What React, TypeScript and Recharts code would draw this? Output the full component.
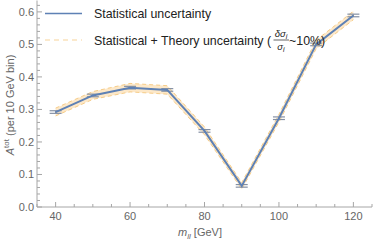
import { Area, ComposedChart, ErrorBar, Line, XAxis, YAxis } from 'recharts';

const masses = [40, 50, 60, 70, 80, 90, 100, 110, 120];
const asym = [0.292, 0.343, 0.367, 0.36, 0.234, 0.065, 0.273, 0.5, 0.589];
const statErr = [0.004, 0.004, 0.004, 0.004, 0.004, 0.004, 0.004, 0.004, 0.004];
const bandLow = [0.28, 0.331, 0.354, 0.347, 0.222, 0.055, 0.261, 0.487, 0.576];
const bandHigh = [0.304, 0.355, 0.38, 0.373, 0.246, 0.075, 0.285, 0.513, 0.602];

const xTicks = [35, 40, 45, 50, 55, 60, 65, 70, 75, 80, 85, 90, 95, 100, 105, 110, 115, 120, 125];
const yTicks = [0, 0.02, 0.04, 0.06, 0.08, 0.1, 0.12, 0.14, 0.16, 0.18, 0.2, 0.22, 0.24, 0.26, 0.28, 0.3,
    0.32, 0.34, 0.36, 0.38, 0.4, 0.42, 0.44, 0.46, 0.48, 0.5, 0.52, 0.54, 0.56, 0.58, 0.6, 0.62];

const data = masses.map((m, i) => ({ x: m, y: asym[i], e: statErr[i], band: [bandLow[i], bandHigh[i]] }));

const frame = '#a6a6a6';
const labelColor = '#666';
const font = '"Liberation Sans", Arial, sans-serif';

const isMajorX = (v: number) => v % 20 === 0;
const isMajorY = (v: number) => Math.round(v * 100) % 10 === 0;

function BottomTick({ x, y, payload }: any) {
    const v = payload.value;
    const len = isMajorX(v) ? 5 : 3;
    return (
        <g>
            <line x1={x} y1={y} x2={x} y2={y - len} stroke={frame} />
            {isMajorX(v) && (
                <text x={x} y={y + 13} textAnchor="middle" fontSize={11} fill={labelColor} fontFamily={font}>
                    {v}
                </text>
            )}
        </g>
    );
}

function TopTick({ x, y, payload }: any) {
    const len = isMajorX(payload.value) ? 5 : 3;
    return <line x1={x} y1={y} x2={x} y2={y + len} stroke={frame} />;
}

function LeftTick({ x, y, payload }: any) {
    const v = payload.value;
    const len = isMajorY(v) ? 5 : 3;
    return (
        <g>
            <line x1={x} y1={y} x2={x + len} y2={y} stroke={frame} />
            {isMajorY(v) && (
                <text x={x - 3} y={y + 4} textAnchor="end" fontSize={11} fill={labelColor} fontFamily={font}>
                    {v.toFixed(1)}
                </text>
            )}
        </g>
    );
}

function RightTick({ x, y, payload }: any) {
    const len = isMajorY(payload.value) ? 5 : 3;
    return <line x1={x} y1={y} x2={x - len} y2={y} stroke={frame} />;
}

export default function App() {
    return (
        <div style={{ position: 'absolute', left: 0, top: 0, width: 374, height: 244, background: '#fff' }}>
            <ComposedChart width={374} height={244} data={data} margin={{ top: 0.5, right: 2, left: 0, bottom: 0 }}>
                <XAxis dataKey="x" type="number" domain={[35, 125]} allowDataOverflow ticks={xTicks} interval={0}
                    height={37} stroke={frame} tickSize={0} tickMargin={0} tick={<BottomTick />} />
                <XAxis xAxisId="top" orientation="top" dataKey="x" type="number" domain={[35, 125]} allowDataOverflow
                    ticks={xTicks} interval={0} height={0} stroke={frame} tickSize={0} tickMargin={0} tick={<TopTick />} />
                <YAxis type="number" domain={[0, 0.635]} allowDataOverflow ticks={yTicks} interval={0} width={37}
                    stroke={frame} tickSize={0} tickMargin={0} tick={<LeftTick />} />
                <YAxis yAxisId="r" orientation="right" type="number" domain={[0, 0.635]} allowDataOverflow ticks={yTicks}
                    interval={0} width={0} stroke={frame} tickSize={0} tickMargin={0} tick={<RightTick />} />
                <Area dataKey="band" type="linear" fill="#fde8c8" fillOpacity={1} stroke="#f6cc88" strokeWidth={1}
                    strokeDasharray="4 3" isAnimationActive={false} />
                <Line dataKey="y" type="linear" stroke="#5e81b5" strokeWidth={2} dot={false} isAnimationActive={false}>
                    <ErrorBar dataKey="e" width={6} stroke="#8590a3" strokeWidth={1.2} direction="y" />
                </Line>
            </ComposedChart>
            <svg width={374} height={244} style={{ position: 'absolute', left: 0, top: 0, pointerEvents: 'none' }}
                fontFamily={font}>
                <line x1={45} y1={13.5} x2={82} y2={13.5} stroke="#5e81b5" strokeWidth={1.5} />
                <text x={94} y={18} fontSize={12.4} fill="#222">Statistical uncertainty</text>
                <line x1={45} y1={40} x2={82} y2={40} stroke="#f7d49a" strokeWidth={1.2} strokeDasharray="5 4" />
                <text x={94} y={45} fontSize={12.4} fill="#222">Statistical + Theory uncertainty (</text>
                <text x={281} y={37} fontSize={9.5} fill="#222" textAnchor="middle" fontStyle="italic">
                    δσ<tspan fontSize={7} dy={2}>i</tspan>
                </text>
                <line x1={273.5} y1={40} x2={289} y2={40} stroke="#222" strokeWidth={0.7} />
                <text x={281} y={50} fontSize={9.5} fill="#222" textAnchor="middle" fontStyle="italic">
                    σ<tspan fontSize={7} dy={2}>i</tspan>
                </text>
                <text x={289} y={45} fontSize={12.4} fill="#222">~10%)</text>
                <text transform="translate(14,105) rotate(-90)" textAnchor="middle" fontSize={11} fill={labelColor}>
                    <tspan fontStyle="italic">A</tspan>
                    <tspan fontSize={8} dy={-5}>tot</tspan>
                    <tspan dy={5}> (per 10 GeV bin)</tspan>
                </text>
                <text x={200} y={236} textAnchor="middle" fontSize={11} fill={labelColor}>
                    <tspan fontStyle="italic">m</tspan>
                    <tspan fontSize={8} dy={3} fontStyle="italic">ll</tspan>
                    <tspan dy={-3}> [GeV]</tspan>
                </text>
            </svg>
        </div>
    );
}
